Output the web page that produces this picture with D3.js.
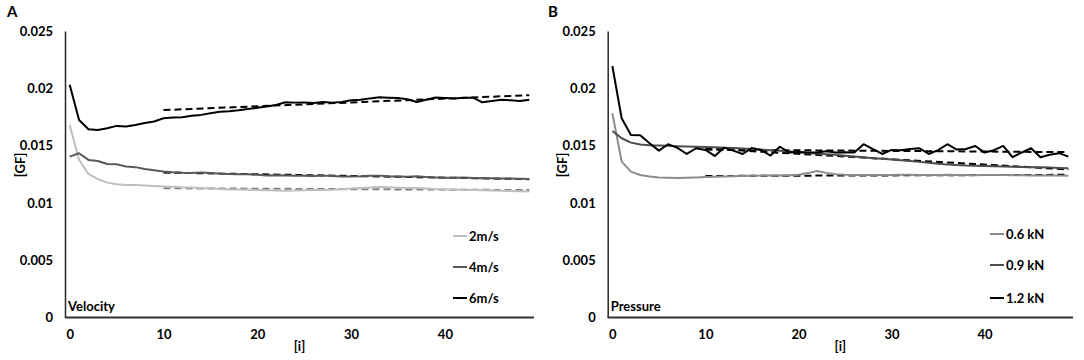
<!DOCTYPE html>
<html>
<head>
<meta charset="utf-8">
<script src="https://cdn.jsdelivr.net/npm/d3@7"></script>
<style>
    html, body { margin: 0; padding: 0; background: #fff; }
    svg { display: block; }
    text { font-family: Lato, "Open Sans", sans-serif; font-weight: bold; fill: #000; }
</style>
</head>
<body>
<div id="chart"></div>
<script>
// Iterations on the x axis
const iterations = d3.range(50);
const xTicks = [0, 10, 20, 30, 40];
const yTicks = [0, 0.005, 0.01, 0.015, 0.02, 0.025];

// Panel A: velocity series
const velocityNames = ["2m/s", "4m/s", "6m/s"];
const vel2 = [0.0168, 0.01375, 0.01253, 0.01207, 0.01177, 0.01162, 0.01157, 0.01157, 0.01152, 0.01148,
    0.01144, 0.0114, 0.01136, 0.01134, 0.0113, 0.01126, 0.01122, 0.01118, 0.01116, 0.01114,
    0.01112, 0.0111, 0.01108, 0.01106, 0.01108, 0.0111, 0.01112, 0.01112, 0.01115, 0.0112,
    0.01125, 0.0113, 0.01135, 0.01138, 0.01136, 0.01133, 0.0113, 0.0113, 0.01126, 0.01122,
    0.0112, 0.01118, 0.01115, 0.01112, 0.0111, 0.01108, 0.01106, 0.01104, 0.01102, 0.011];
const vel4 = [0.01404, 0.01433, 0.01375, 0.01366, 0.0134, 0.01337, 0.01317, 0.01312, 0.01295, 0.01285,
    0.01275, 0.01268, 0.01263, 0.0126, 0.01265, 0.01262, 0.01255, 0.01253, 0.0125, 0.0125,
    0.01245, 0.0124, 0.01242, 0.0124, 0.01236, 0.01236, 0.01235, 0.01238, 0.01234, 0.0123,
    0.0123, 0.01232, 0.01236, 0.01238, 0.01232, 0.0123, 0.01228, 0.01232, 0.01225, 0.01222,
    0.0122, 0.0122, 0.01222, 0.01218, 0.01215, 0.01215, 0.01213, 0.01212, 0.0121, 0.01208];
const vel6 = [0.0203, 0.01723, 0.01643, 0.01637, 0.01652, 0.01672, 0.01666, 0.0168, 0.01698, 0.0171,
    0.01739, 0.01745, 0.01748, 0.0176, 0.01768, 0.01782, 0.01796, 0.018, 0.01808, 0.0182,
    0.0183, 0.01842, 0.01855, 0.01878, 0.01875, 0.01876, 0.01872, 0.0188, 0.01875, 0.0188,
    0.01895, 0.019, 0.01912, 0.01922, 0.01918, 0.01915, 0.01905, 0.0188, 0.019, 0.0192,
    0.01915, 0.0191, 0.01918, 0.01918, 0.01878, 0.0189, 0.019, 0.01895, 0.0189, 0.019];
// linear trend lines, value at i=10 and at i=49
const velTrends = [[0.01128, 0.01112], [0.01265, 0.01207], [0.0181, 0.0194]];

// Panel B: pressure series
const pressureNames = ["0.6 kN", "0.9 kN", "1.2 kN"];
const pres06 = [0.01782, 0.0136, 0.01273, 0.01244, 0.0123, 0.01222, 0.0122, 0.01218, 0.0122, 0.01222,
    0.01225, 0.01228, 0.0123, 0.01232, 0.01235, 0.01236, 0.01238, 0.0124, 0.0124, 0.01242,
    0.01245, 0.0126, 0.01278, 0.01262, 0.0125, 0.01246, 0.01244, 0.01244, 0.01244, 0.01243,
    0.01244, 0.01245, 0.01246, 0.01244, 0.01243, 0.01244, 0.01245, 0.01244, 0.01243, 0.01242,
    0.01243, 0.01244, 0.01243, 0.01242, 0.01241, 0.0124, 0.0124, 0.01239, 0.01238, 0.01238];
const pres09 = [0.01628, 0.01564, 0.01526, 0.0151, 0.01503, 0.015, 0.01498, 0.01495, 0.01493, 0.0149,
    0.01488, 0.01485, 0.01482, 0.01478, 0.01475, 0.0147, 0.01465, 0.0146, 0.01456, 0.0145,
    0.01443, 0.01436, 0.0143, 0.01425, 0.0142, 0.01412, 0.01405, 0.01398, 0.0139, 0.01385,
    0.01378, 0.01372, 0.01365, 0.01358, 0.0135, 0.01342, 0.01336, 0.0133, 0.01326, 0.01324,
    0.01322, 0.0132, 0.01318, 0.01316, 0.01314, 0.01312, 0.0131, 0.01308, 0.01305, 0.01302];
const pres12 = [0.02195, 0.01739, 0.01593, 0.0159, 0.0152, 0.01456, 0.01512, 0.0148, 0.01427, 0.01477,
    0.01462, 0.0141, 0.01482, 0.01456, 0.01427, 0.0148, 0.0146, 0.01413, 0.0149, 0.0144,
    0.01445, 0.0144, 0.01439, 0.0145, 0.0144, 0.01442, 0.0144, 0.01512, 0.0147, 0.01427,
    0.01462, 0.0146, 0.0147, 0.01477, 0.01427, 0.0146, 0.01512, 0.01465, 0.0147, 0.01497,
    0.01439, 0.0146, 0.01497, 0.01399, 0.0144, 0.01477, 0.01399, 0.0142, 0.01434, 0.01404];
const presTrends = [[0.01235, 0.01245], [0.01475, 0.01292], [0.01465, 0.01443]];

const trendRange = [10, 49];

// Overall size
const W = 1084, H = 360;

const svg = d3.select("#chart")
    .append("svg")
    .attr("width", W)
    .attr("height", H);

function drawPanel(opts) {
    const g = svg.append("g");

    const x = d3.scalePoint()
        .domain(iterations)
        .range([opts.left, opts.right])
        .padding(0.5);

    const y = d3.scaleLinear()
        .domain([0, 0.025])
        .range([317.5, 31]);

    // Y axis
    const yAxis = g.append("g")
        .attr("transform", `translate(${opts.left},0)`)
        .call(d3.axisLeft(y)
            .tickValues(yTicks)
            .tickFormat(d => d === 0 ? "0" : String(+d.toFixed(3)))
            .tickSize(0)
            .tickPadding(12));
    yAxis.select(".domain").attr("stroke", "#262626").attr("stroke-width", 1.5);
    yAxis.selectAll("text").attr("font-size", "13px").attr("font-family", null);

    // X axis
    const xAxis = g.append("g")
        .attr("transform", `translate(0,${y(0)})`)
        .call(d3.axisBottom(x)
            .tickValues(xTicks)
            .tickSize(0)
            .tickPadding(12));
    xAxis.select(".domain")
        .attr("d", `M${opts.left},0H${opts.right}`)
        .attr("stroke", "#333").attr("stroke-width", 2);
    xAxis.selectAll("text").attr("font-size", "13px").attr("font-family", null);

    // Trend lines (dashed)
    opts.trends.forEach((t, k) => {
        g.append("line")
            .attr("x1", x(trendRange[0]))
            .attr("x2", x(trendRange[1]))
            .attr("y1", y(t[0]))
            .attr("y2", y(t[1]))
            .attr("stroke", opts.trendColors[k])
            .attr("stroke-width", 2)
            .attr("stroke-dasharray", "7,4");
    });

    // Data lines
    const line = d3.line()
        .x((d, i) => x(i))
        .y(d => y(d));

    opts.series.forEach((s, k) => {
        g.append("path")
            .datum(s)
            .attr("d", line)
            .attr("fill", "none")
            .attr("stroke", opts.colors[k])
            .attr("stroke-width", 2)
            .attr("stroke-linejoin", "round");
    });

    // Legend
    const legend = g.append("g")
        .attr("transform", `translate(${opts.legendX},0)`);
    opts.names.forEach((name, k) => {
        const ly = opts.legendY[k];
        legend.append("line")
            .attr("x1", 0).attr("x2", 14)
            .attr("y1", ly).attr("y2", ly)
            .attr("stroke", opts.colors[k])
            .attr("stroke-width", 2);
        legend.append("text")
            .attr("x", 16)
            .attr("y", ly)
            .attr("dy", "0.35em")
            .attr("font-size", "13px")
            .text(name);
    });

    // Corner label inside the plot
    g.append("text")
        .attr("x", opts.left + 3)
        .attr("y", 311)
        .attr("font-size", "13px")
        .text(opts.inner);

    // Axis titles
    g.append("text")
        .attr("transform", `translate(${opts.left - 45},165) rotate(-90)`)
        .attr("text-anchor", "middle")
        .attr("dy", "0.35em")
        .attr("font-size", "13px")
        .text("[GF]");

    g.append("text")
        .attr("x", (opts.left + opts.right) / 2)
        .attr("y", 351)
        .attr("text-anchor", "middle")
        .attr("font-size", "13px")
        .text("[i]");

    // Panel letter
    g.append("text")
        .attr("x", opts.letterX)
        .attr("y", 17)
        .attr("font-size", "15px")
        .text(opts.letter);
}

drawPanel({
    left: 65, right: 534,
    series: [vel2, vel4, vel6],
    names: velocityNames,
    colors: ["#bfbfbf", "#595959", "#000000"],
    trends: velTrends,
    trendColors: ["#7f7f7f", "#000000", "#000000"],
    legendX: 453, legendY: [236, 267, 298],
    inner: "Velocity",
    letter: "A", letterX: 7
});

drawPanel({
    left: 607.7, right: 1073,
    series: [pres06, pres09, pres12],
    names: pressureNames,
    colors: ["#8c8c8c", "#4d4d4d", "#000000"],
    trends: presTrends,
    trendColors: ["#000000", "#000000", "#000000"],
    legendX: 990, legendY: [234, 265, 298],
    inner: "Pressure",
    letter: "B", letterX: 548
});
</script>
</body>
</html>
